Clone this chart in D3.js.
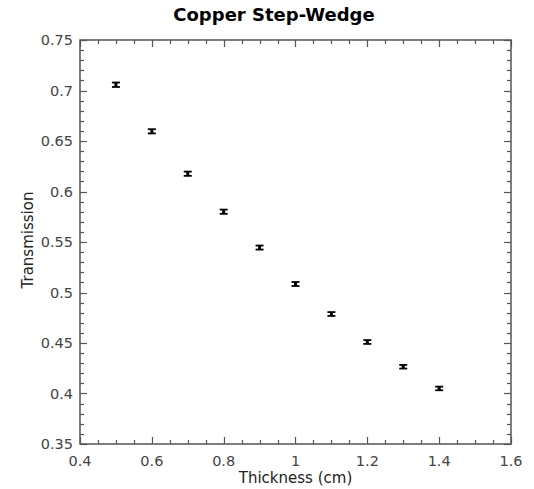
<!DOCTYPE html>
<html><head><meta charset="utf-8">
<script src="https://cdn.jsdelivr.net/npm/d3@7"></script>
<style>body{margin:0;background:#fff}svg{display:block}</style>
</head><body>
<script>
const thickness = [0.5,0.6,0.7,0.8,0.9,1.0,1.1,1.2,1.3,1.4];
const transmission = [0.7057,0.6596,0.6176,0.580,0.5445,0.5084,0.4787,0.451,0.4265,0.405];
const errors = [0.0022,0.0021,0.0021,0.0021,0.002,0.002,0.0019,0.0019,0.0018,0.0018];
const xTicks = [0.4,0.6,0.8,1.0,1.2,1.4,1.6];
const yTicks = [0.35,0.4,0.45,0.5,0.55,0.6,0.65,0.7,0.75];

const W=534,H=489;
const m={l:80,r:23,t:40,b:45};
const svg=d3.select("body").append("svg").attr("width",W).attr("height",H);
const x=d3.scaleLinear().domain([0.4,1.6]).range([m.l,W-m.r]);
const y=d3.scaleLinear().domain([0.35,0.75]).range([H-m.b,m.t]);
const font="DejaVu Sans, Verdana, sans-serif";
const axCol="#555";

const xMinor=d3.range(0.4,1.6001,0.05).map(v=>+v.toFixed(2));
const yMinor=d3.range(0.35,0.7501,0.01).map(v=>+v.toFixed(2));
const isMajX=v=>xTicks.some(t=>Math.abs(t-v)<1e-6);
const isMajY=v=>yTicks.some(t=>Math.abs(t-v)<1e-6);

const g=svg.append("g").attr("stroke",axCol).attr("stroke-width",1.2);
xMinor.forEach(v=>{
  const L=isMajX(v)?7:4; const px=Math.round(x(v))+0.5;
  g.append("line").attr("x1",px).attr("x2",px).attr("y1",y(0.35)).attr("y2",y(0.35)-L);
  g.append("line").attr("x1",px).attr("x2",px).attr("y1",y(0.75)).attr("y2",y(0.75)+L);
});
yMinor.forEach(v=>{
  const L=isMajY(v)?7:4; const py=Math.round(y(v))+0.5;
  g.append("line").attr("y1",py).attr("y2",py).attr("x1",x(0.4)).attr("x2",x(0.4)+L);
  g.append("line").attr("y1",py).attr("y2",py).attr("x1",x(1.6)).attr("x2",x(1.6)-L);
});
svg.append("rect").attr("x",x(0.4)).attr("y",y(0.75)).attr("width",x(1.6)-x(0.4)).attr("height",y(0.35)-y(0.75))
  .attr("fill","none").attr("stroke",axCol).attr("stroke-width",1.5);

const fmt=v=>String(+v.toFixed(2));
svg.append("g").selectAll("text").data(xTicks).join("text")
  .attr("x",d=>x(d)).attr("y",H-m.b+22).attr("text-anchor","middle")
  .attr("font-family",font).attr("font-size",14.5).attr("fill","#444").text(fmt);
svg.append("g").selectAll("text").data(yTicks).join("text")
  .attr("x",m.l-7).attr("y",d=>y(d)+5).attr("text-anchor","end")
  .attr("font-family",font).attr("font-size",14.5).attr("fill","#444").text(fmt);

svg.append("text").attr("x",274).attr("y",21).attr("text-anchor","middle")
  .attr("font-family",font).attr("font-weight","bold").attr("font-size",18).attr("fill","#000").text("Copper Step-Wedge");
svg.append("text").attr("x",(x(0.4)+x(1.6))/2).attr("y",483).attr("text-anchor","middle")
  .attr("font-family",font).attr("font-size",15).attr("fill","#222").text("Thickness (cm)");
svg.append("text").attr("transform",`translate(33,${(y(0.35)+y(0.75))/2-2}) rotate(-90)`).attr("text-anchor","middle")
  .attr("font-family",font).attr("font-size",15).attr("fill","#222").text("Transmission");

const pts=thickness.map((t,i)=>({x:t,y:transmission[i],e:errors[i]}));
const eb=svg.append("g").attr("stroke","#000");
pts.forEach(p=>{
  const cx=x(p.x), y1=y(p.y+p.e), y2=y(p.y-p.e);
  eb.append("line").attr("x1",cx).attr("x2",cx).attr("y1",y1).attr("y2",y2).attr("stroke-width",3);
  eb.append("line").attr("x1",cx-4).attr("x2",cx+4).attr("y1",y1).attr("y2",y1).attr("stroke-width",1.8);
  eb.append("line").attr("x1",cx-4).attr("x2",cx+4).attr("y1",y2).attr("y2",y2).attr("stroke-width",1.8);
});
</script>
</body></html>
